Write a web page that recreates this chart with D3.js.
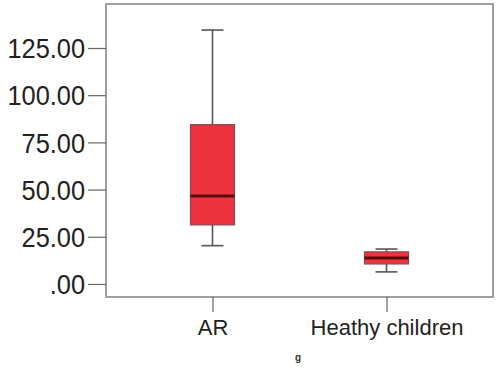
<!DOCTYPE html>
<html><head><meta charset="utf-8">
<script src="https://cdn.jsdelivr.net/npm/d3@7"></script>
<style>body{margin:0;background:#fff}svg{display:block}</style>
</head><body>
<svg id="c" width="500" height="377"></svg>
<script>
const categories = ["AR", "Heathy children"];
const whiskerLow = [20.3, 6.4];
const q1 = [31.3, 10.6];
const median = [46.6, 13.8];
const q3 = [84.4, 17.0];
const whiskerHigh = [134.5, 18.5];
const yTicks = [0, 25, 50, 75, 100, 125];
const yTickLabels = [".00", "25.00", "50.00", "75.00", "100.00", "125.00"];
const footnote = "g";

const svg = d3.select("#c");
const L = 106, R = 493, T = 4, B = 297;
const y = d3.scaleLinear().domain([-6.9, 148.3]).range([B, T]);
const x = d3.scalePoint().domain(categories).range([L, R]).padding(0.612);
const step = x.step();
const boxW = step * 0.253;
const capW = boxW / 2;

// frame
svg.append("rect").attr("x", L).attr("y", T).attr("width", R - L).attr("height", B - T)
  .attr("fill", "none").attr("stroke", "#a0a0a0").attr("stroke-width", 2);

// y axis
const yAxis = svg.append("g").attr("transform", `translate(${L},0)`)
  .call(d3.axisLeft(y).tickValues(yTicks).tickSize(18).tickPadding(2)
    .tickFormat((d, i) => yTickLabels[i]));
yAxis.select(".domain").remove();
yAxis.selectAll(".tick line").attr("stroke", "#666").attr("stroke-width", 1.2);
yAxis.selectAll(".tick text").attr("font-family", "Liberation Sans, Arial, sans-serif")
  .attr("font-size", 27).attr("fill", "#222").attr("dy", "0.36em")
  .attr("transform", "scale(0.94,1)").attr("x", -21 / 0.94);

// x axis
const xAxis = svg.append("g").attr("transform", `translate(0,${B})`)
  .call(d3.axisBottom(x).tickSize(15).tickPadding(7));
xAxis.select(".domain").remove();
xAxis.selectAll(".tick line").attr("stroke", "#666").attr("stroke-width", 1.2);
xAxis.selectAll(".tick text").attr("font-family", "Liberation Sans, Arial, sans-serif")
  .attr("font-size", 22).attr("fill", "#222");

// boxes
const g = svg.append("g");
categories.forEach((c, i) => {
  const cx = x(c);
  const gi = g.append("g");
  // whiskers
  gi.append("line").attr("x1", cx).attr("x2", cx).attr("y1", y(whiskerHigh[i])).attr("y2", y(q3[i]))
    .attr("stroke", "#555").attr("stroke-width", 1.6);
  gi.append("line").attr("x1", cx).attr("x2", cx).attr("y1", y(q1[i])).attr("y2", y(whiskerLow[i]))
    .attr("stroke", "#555").attr("stroke-width", 1.6);
  [whiskerHigh[i], whiskerLow[i]].forEach(v => {
    gi.append("line").attr("x1", cx - capW / 2).attr("x2", cx + capW / 2)
      .attr("y1", y(v)).attr("y2", y(v)).attr("stroke", "#555").attr("stroke-width", 1.6);
  });
  gi.append("rect").attr("x", cx - boxW / 2).attr("width", boxW)
    .attr("y", y(q3[i])).attr("height", y(q1[i]) - y(q3[i]))
    .attr("fill", "#ee3340").attr("stroke", "#8a4a4c").attr("stroke-width", 1.2);
  gi.append("line").attr("x1", cx - boxW / 2).attr("x2", cx + boxW / 2)
    .attr("y1", y(median[i])).attr("y2", y(median[i]))
    .attr("stroke", "#5a0a0c").attr("stroke-width", 3);
});

svg.append("text").attr("x", 298).attr("y", 361).attr("text-anchor", "middle")
  .attr("font-family", "Liberation Sans, Arial, sans-serif").attr("font-size", 10)
  .attr("font-weight", "bold").attr("fill", "#333").text(footnote);
</script>
</body></html>
